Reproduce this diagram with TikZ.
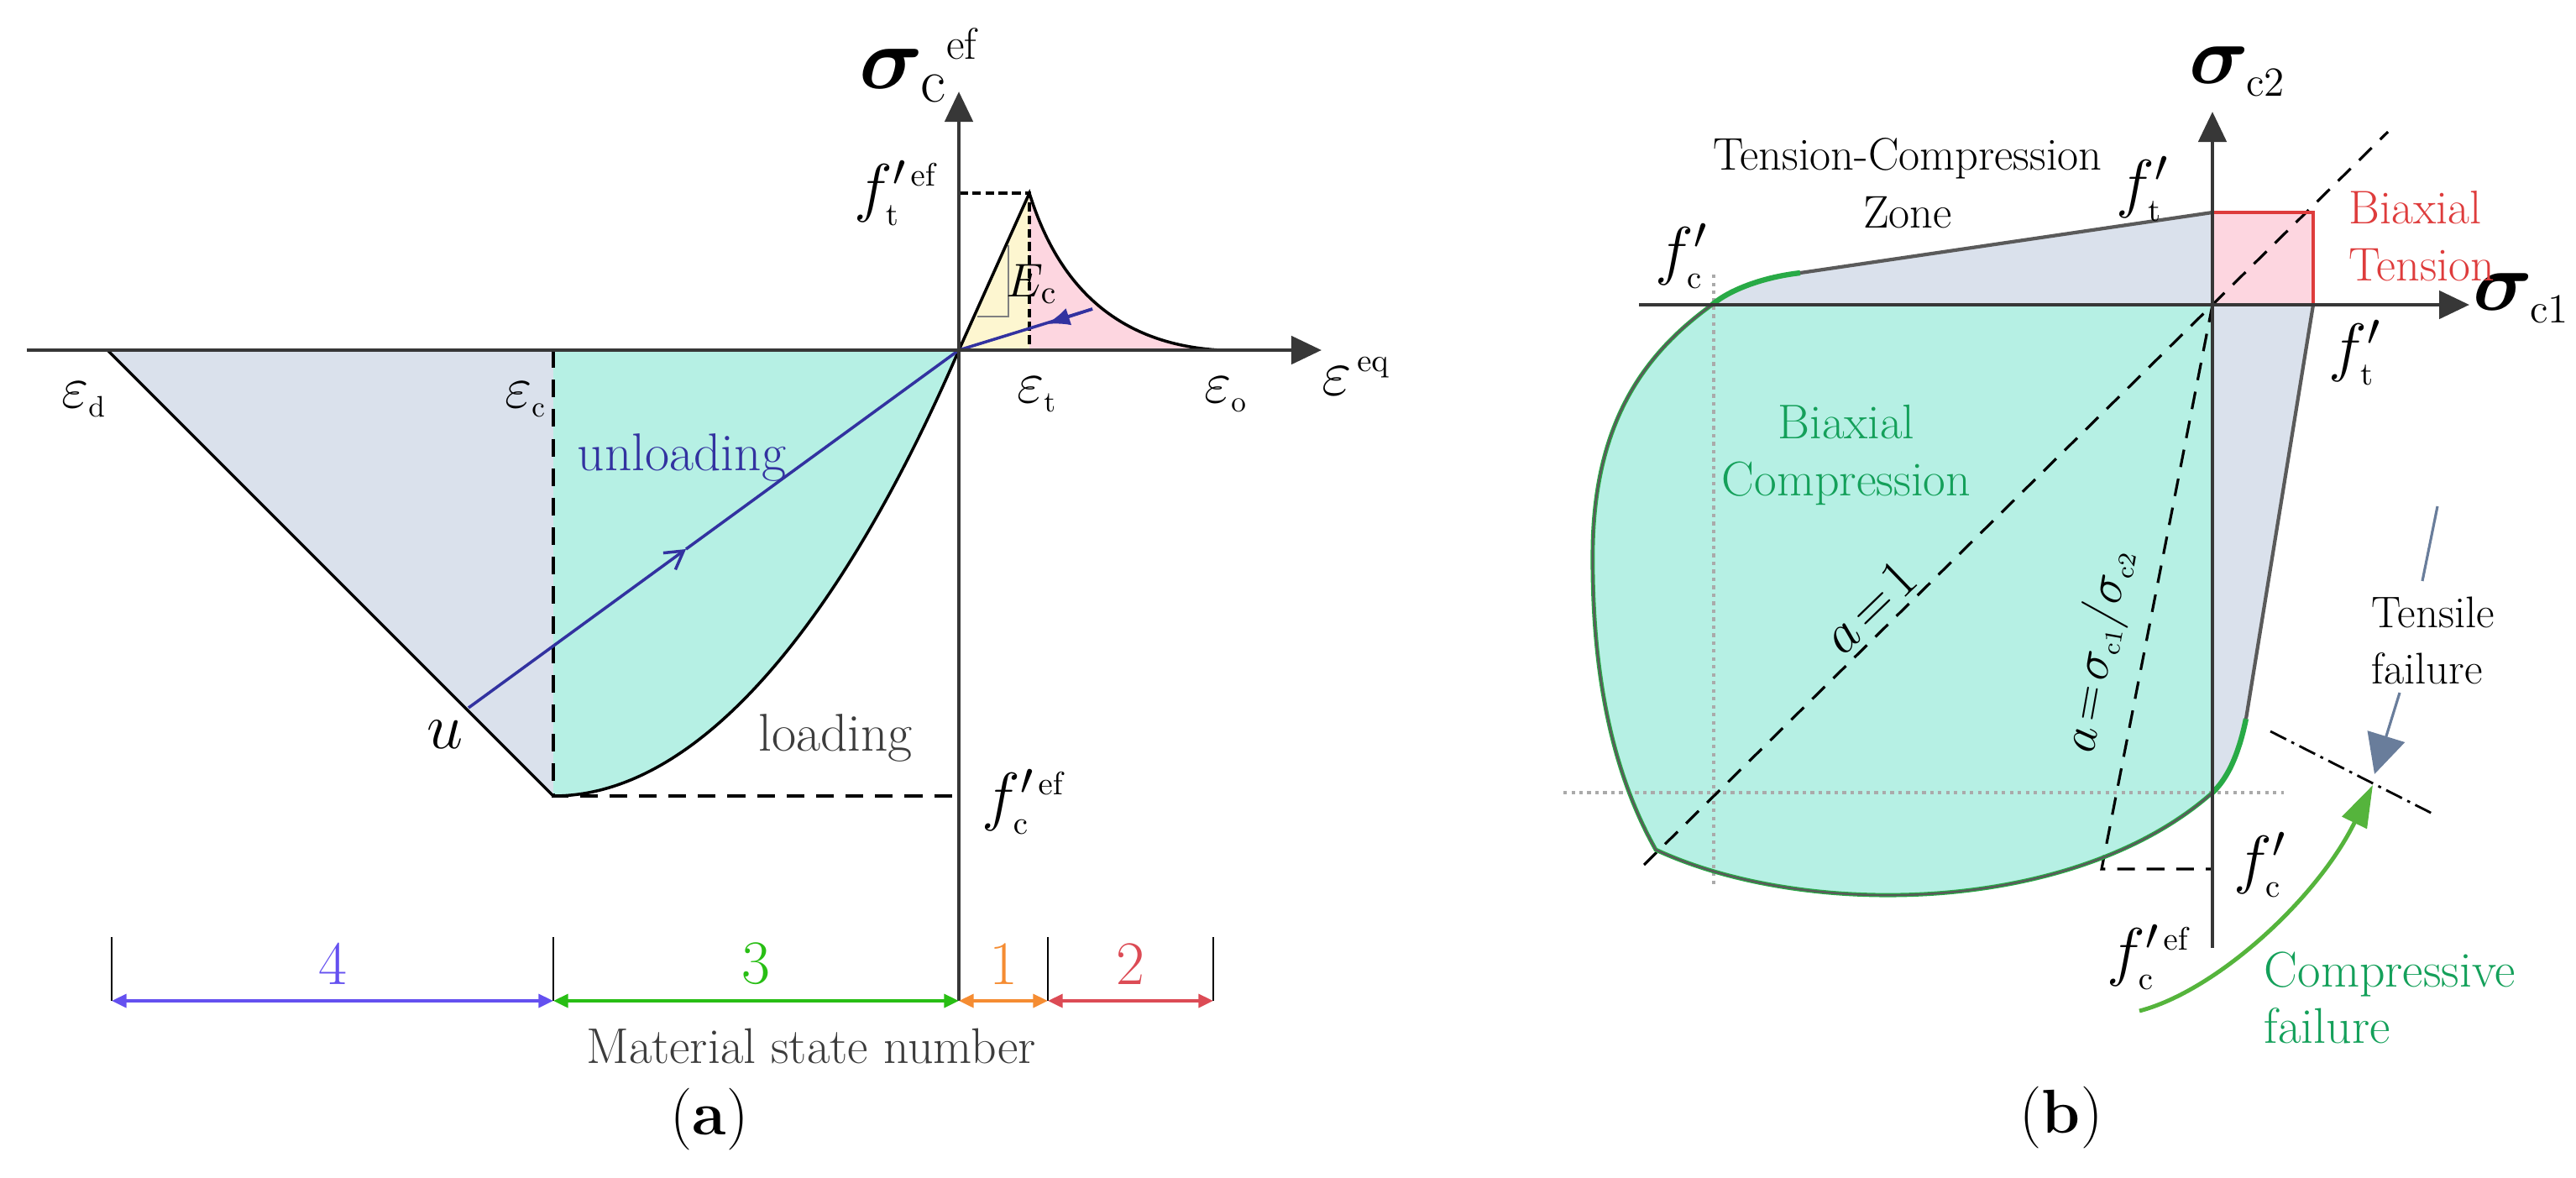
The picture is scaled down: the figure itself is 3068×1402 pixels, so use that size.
\documentclass[tikz,border=0pt]{standalone}
\usepackage{fix-cm}
\usepackage{bm}
\usetikzlibrary{arrows.meta,calc,positioning}
\definecolor{mymint}{RGB}{182,240,228}
\definecolor{myslate}{RGB}{218,225,236}
\definecolor{mypink}{RGB}{253,214,224}
\definecolor{myyellow}{RGB}{253,246,208}
\definecolor{myaxiscol}{RGB}{55,55,55}
\definecolor{myedge}{RGB}{90,90,90}
\definecolor{myblue}{RGB}{50,50,160}
\definecolor{mypurple}{RGB}{100,80,240}
\definecolor{mygreen}{RGB}{40,190,20}
\definecolor{myorange}{RGB}{245,140,50}
\definecolor{myred}{RGB}{220,75,85}
\definecolor{mysquare}{RGB}{222,60,60}
\definecolor{mytextgreen}{RGB}{20,160,90}
\definecolor{myenvgreen}{RGB}{40,170,70}
\definecolor{myarrowgreen}{RGB}{85,180,60}
\definecolor{mysteel}{RGB}{105,125,155}
\definecolor{mydotcol}{RGB}{170,170,170}
\definecolor{mytext}{RGB}{60,60,60}

\begin{document}
\begin{tikzpicture}[
  x=0.01cm, y=-0.01cm,
  myaxis/.style={draw=myaxiscol, line width=1.4pt, -{Triangle[length=0.36cm,width=0.33cm]}},
  mycurve/.style={line width=1pt},
  mydash/.style={line width=0.9pt, dash pattern=on 6pt off 4pt},
  myfine/.style={line width=0.9pt, dash pattern=on 3pt off 1.5pt},
  mydotted/.style={draw=mydotcol, line width=1pt, dash pattern=on 1.2pt off 1.5pt},
  mydim/.style={line width=1.1pt, {Triangle[length=5pt,width=4.5pt]}-{Triangle[length=5pt,width=4.5pt]}},
  mylbl/.style={font=\fontsize{#1}{#1}\selectfont, inner sep=0pt},
  myenv/.style={draw=myedge, line width=1.2pt}
]
\useasboundingbox (0,0) rectangle (3068,1402);

% (a)
\coordinate (o) at (1142,417);
\coordinate (ed) at (128,417);
\coordinate (ec) at (659,417);
\coordinate (bot) at (659,948);
\coordinate (fc) at (1142,948);
\coordinate (peak) at (1226,230);
\coordinate (ft) at (1142,230);
\coordinate (et) at (1226,417);
\coordinate (eo) at (1453,417);
\coordinate (u) at (558,843);
\coordinate (um) at (817,654);
\coordinate (tend) at (1301,368);
\coordinate (tm) at (1246,386);

\fill[myslate] (ed) -- (bot) -- (ec) -- cycle;
\fill[mymint] (ec) -- (bot) .. controls (850,948) and (1020,700) .. (o) -- cycle;
\fill[myyellow] (o) -- (peak) -- (et) -- cycle;
\fill[mypink] (peak) .. controls (1260,340) and (1330,410) .. (eo) -- (et) -- cycle;

\draw[mycurve] (ed) -- (bot) .. controls (850,948) and (1020,700) .. (o) -- (peak) .. controls (1260,340) and (1330,410) .. (eo);
\draw[mydash] (ec) -- (bot) -- (fc);
\draw[myfine] (ft) -- (peak) -- (et);
\draw[gray, line width=0.6pt] (1164,377) -- (1201,377) -- (1201,292);

\draw[myblue, line width=1pt, -{Straight Barb[length=6pt,width=7pt]}] (u) -- (um);
\draw[myblue, line width=1pt] (um) -- (o) -- (tend);
\draw[myblue, line width=1pt, -{Latex[length=8pt,width=6pt]}] (tend) -- (tm);

\draw[myaxis] (32,417) -- (1574,417);
\draw[myaxis] (1142,1192) -- (1142,109);

\foreach \x in {133,659,1248,1445}
  \draw[line width=0.5pt] (\x,1116) -- (\x,1192);
\foreach \a/\b/\n/\c [count=\i from 1] in {133/659/4/mypurple, 659/1142/3/mygreen, 1142/1248/1/myorange, 1248/1445/2/myred}
  \draw[mydim, \c] (\a,1192) -- node[above=5pt, mylbl=21, text=\c] (num\i) {\n} (\b,1192);

\node[mylbl=30] (sig) at (1076,90) {$\bm{\sigma}_{\mathrm{c}}$};
\node[mylbl=15] (sigef) at (1145,52) {ef};
\node[mylbl=22] (ftl) at (1068,230) {$f^{\prime\scriptscriptstyle\,\mathrm{ef}}_{\scriptscriptstyle\mathrm{t}}$};
\node[mylbl=16] (ecl) at (1229,338) {$E_{\mathrm{c}}$};
\node[mylbl=20] (epsd) at (100,476) {$\varepsilon_{\scriptscriptstyle\mathrm{d}}$};
\node[mylbl=20] (epsc) at (626,476) {$\varepsilon_{\scriptscriptstyle\mathrm{c}}$};
\node[mylbl=20] (epst) at (1235,470) {$\varepsilon_{\scriptscriptstyle\mathrm{t}}$};
\node[mylbl=20] (epso) at (1460,470) {$\varepsilon_{\scriptscriptstyle\mathrm{o}}$};
\node[mylbl=22] (epseq) at (1615,448) {$\varepsilon^{\scriptscriptstyle\,\mathrm{eq}}$};
\node[mylbl=22] (fcl) at (1220,955) {$f^{\prime\scriptscriptstyle\,\mathrm{ef}}_{\scriptscriptstyle\mathrm{c}}$};
\node[mylbl=18, text=myblue] (unl) at (812,545) {unloading};
\node[mylbl=18, text=mytext] (lod) at (995,879) {loading};
\node[mylbl=22] (ul) at (530,875) {$u$};
\node[mylbl=17, text=mytext] (msn) at (966,1246) {Material state number};
\node[mylbl=21] (capa) at (845,1333) {({\bfseries a})};

% (b)
\coordinate (O) at (2635,363);
\coordinate (fcx) at (2039,363);
\coordinate (g1) at (2144,325);
\coordinate (fty) at (2635,253);
\coordinate (tt) at (2755,253);
\coordinate (ftx) at (2755,363);
\coordinate (g2) at (2675,856);
\coordinate (fcy) at (2635,944);
\coordinate (corner) at (1972,1012);
\coordinate (rb) at (2503,1035);
\coordinate (rbx) at (2635,1035);

\fill[myslate] (fcx) .. controls (2060,345) and (2100,330) .. (g1) -- (fty) -- (O) -- cycle;
\fill[myslate] (O) -- (ftx) -- (g2) .. controls (2665,905) and (2650,930) .. (fcy) -- cycle;
\fill[mypink] (fty) rectangle (ftx);
\fill[mymint] (fcx) .. controls (1960,420) and (1900,500) .. (1897,650) .. controls (1895,800) and (1920,920) .. (corner) .. controls (2150,1095) and (2470,1090) .. (fcy) -- (O) -- cycle;

\draw[mydotted] (2041,327) -- (2041,1058);
\draw[mydotted] (1862,944) -- (2720,944);
\draw[mydash] (1958,1030) -- (2844,157);
\draw[mydash] (O) -- (rb) -- (rbx);

\draw[myenvgreen, line width=1.4pt] (fcx) .. controls (1960,420) and (1900,500) .. (1897,650) .. controls (1895,800) and (1920,920) .. (corner) .. controls (2150,1095) and (2470,1090) .. (fcy);
\draw[myedge, line width=0.7pt] (fcx) .. controls (1960,420) and (1900,500) .. (1897,650) .. controls (1895,800) and (1920,920) .. (corner) .. controls (2150,1095) and (2470,1090) .. (fcy);
\draw[myenvgreen, line width=1.8pt] (fcx) .. controls (2060,345) and (2100,330) .. (g1);
\draw[myenvgreen, line width=1.8pt] (g2) .. controls (2665,905) and (2650,930) .. (fcy);
\draw[myenv] (g1) -- (fty);
\draw[myenv] (ftx) -- (g2);
\draw[mysquare, line width=1.3pt] (fty) -- (tt) -- (ftx);

\draw[myaxis] (1952,363) -- (2941,363);
\draw[myaxis] (2635,1129) -- (2635,133);

\coordinate (tf1) at (2903,603);
\coordinate (tf2) at (2885,692);
\coordinate (tf3) at (2858,825);
\coordinate (tf4) at (2828,922);
\coordinate (dd1) at (2704,871);
\coordinate (dd2) at (2901,971);
\coordinate (cf1) at (2548,1204);
\coordinate (cf2) at (2826,935);
\draw[mysteel, line width=0.9pt] (tf1) -- (tf2);
\draw[mysteel, line width=0.9pt, -{Triangle[length=0.47cm,width=0.46cm]}] (tf3) -- (tf4);
\draw[line width=0.8pt, dash pattern=on 6pt off 2pt on 1pt off 2pt] (dd1) -- (dd2);
\draw[myarrowgreen, line width=1.4pt, -{Triangle[length=0.5cm,width=0.32cm]}] (cf1) .. controls (2640,1180) and (2760,1070) .. (cf2);

\node[font=\fontsize{15.5}{19.6}\selectfont, align=center, inner sep=0pt] (tcz) at (2272,218) {Tension-Compression\\Zone};
\node[mylbl=22] (fcb) at (2003,305) {$f^{\prime}_{\scriptscriptstyle\mathrm{c}}$};
\node[mylbl=22] (ftb) at (2552,225) {$f^{\prime}_{\scriptscriptstyle\mathrm{t}}$};
\node[mylbl=28] (sig2) at (2665,85) {$\bm{\sigma}_{\scriptscriptstyle\mathrm{c2}}$};
\node[mylbl=28] (sig1) at (3003,355) {$\bm{\sigma}_{\scriptscriptstyle\mathrm{c1}}$};
\node[font=\fontsize{16}{19.3}\selectfont, align=left, inner sep=0pt, anchor=west, text=mysquare] (bt) at (2797,281) {Biaxial\\Tension};
\node[mylbl=22] (ftr) at (2805,420) {$f^{\prime}_{\scriptscriptstyle\mathrm{t}}$};
\node[font=\fontsize{16.5}{19.3}\selectfont, align=center, inner sep=0pt, text=mytextgreen] (bc) at (2199,542) {Biaxial\\Compression};
\node[mylbl=19, rotate=44] (aone) at (2227,723) {$a\!=\!1$};
\node[mylbl=17, rotate=80] (arat) at (2500,775) {$a\!=\!\sigma_{\scriptscriptstyle\mathrm{c1}}\Big/\sigma_{\scriptscriptstyle\mathrm{c2}}$};
\node[mylbl=22] (fcr) at (2692,1030) {$f^{\prime}_{\scriptscriptstyle\mathrm{c}}$};
\node[mylbl=22] (fcef) at (2560,1140) {$f^{\prime\scriptscriptstyle\,\mathrm{ef}}_{\scriptscriptstyle\mathrm{c}}$};
\node[font=\fontsize{15}{19}\selectfont, align=left, inner sep=0pt, anchor=west] (tfl) at (2824,763) {Tensile\\failure};
\node[font=\fontsize{17}{19}\selectfont, align=left, inner sep=0pt, anchor=west, text=mytextgreen] (cfl) at (2696,1188) {Compressive\\failure};
\node[mylbl=21] (capb) at (2455,1331) {({\bfseries b})};
\end{tikzpicture}
\end{document}
